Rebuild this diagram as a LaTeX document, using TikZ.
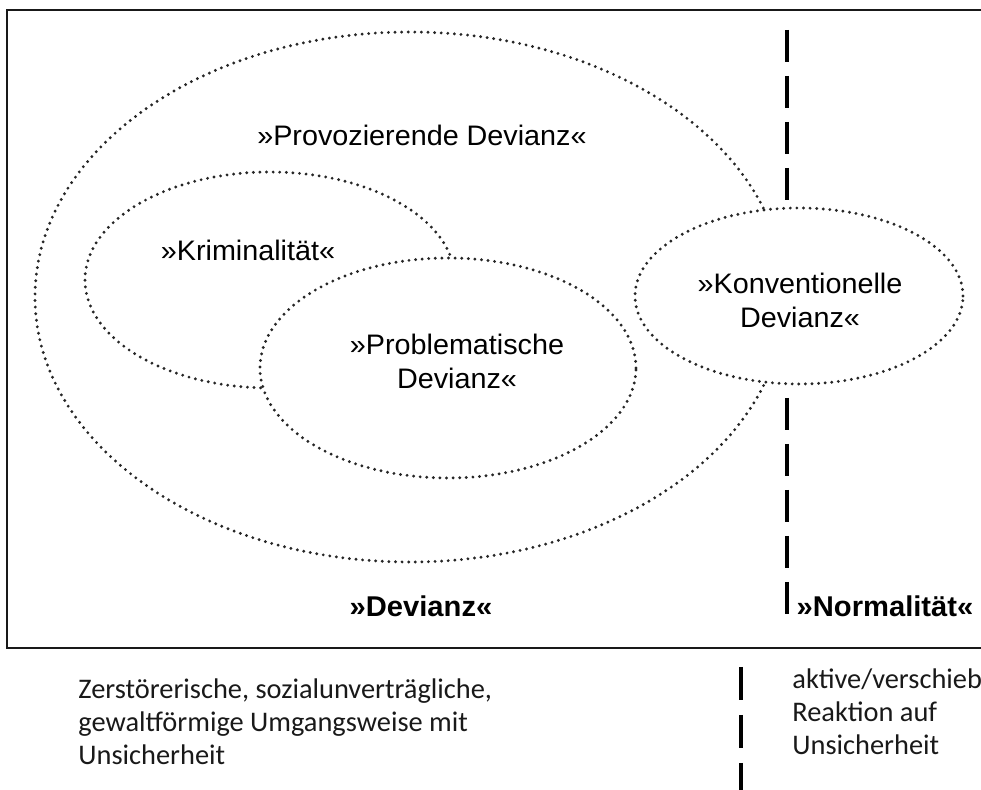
\documentclass[tikz,border=0pt]{standalone}
\usepackage{fontspec}
\setmainfont{Liberation Sans}
\newfontfamily\scanfont[FakeStretch=1.02]{Liberation Sans}
\newfontfamily\notefont{Carlito}
\usetikzlibrary{shapes.geometric,positioning}

\tikzset{
  scan/.style = {x=0.5pt, y=-0.5pt},
  zoneStyle/.style = {ellipse, draw=black!85, line width=1.6pt, line cap=round,
                      dash pattern=on 0pt off 3.3pt, inner sep=0pt},
  hiddenZone/.style = {zoneStyle, fill=white},
  zoneText/.style = {font=\scanfont\fontsize{14.1}{17}\selectfont, align=center, inner sep=0pt},
  sideText/.style = {font=\scanfont\bfseries\fontsize{14.3}{17}\selectfont, inner sep=0pt},
  noteText/.style = {font=\notefont\fontsize{14.2}{16.5}\selectfont, text=black!90, align=left, inner sep=0pt},
  borderLine/.style = {line width=1.2pt, black!90},
  dividerLine/.style = {line width=2pt, dash pattern=on 16pt off 7pt}
}

\begin{document}
\begin{tikzpicture}[scan]
  \useasboundingbox (0,0) rectangle (981,790);

  % frame, open to the right
  \coordinate (frameTR) at (1000,10);
  \coordinate (frameBR) at (1000,648);
  \draw [borderLine] (frameTR) -- (7,10) -- (7,648) -- (frameBR);

  % zones
  \node [zoneStyle, minimum width=375pt, minimum height=265pt] (provo) at (410,297) {};
  \node [hiddenZone, minimum width=185pt, minimum height=108pt] (krim) at (270,280) {};
  \node [hiddenZone, minimum width=188pt, minimum height=110pt] (probl) at (448,368) {};

  % border between deviance and normality
  \coordinate (normTop) at (787,30);
  \coordinate (normBot) at (787,618);
  \draw [dividerLine] (normTop) -- (normBot);

  \node [hiddenZone, minimum width=164pt, minimum height=88pt] (konv) at (799,296) {};

  % labels
  \node [zoneText] (provoText) at (422,135) {»Provozierende Devianz«};
  \node [zoneText] (krimText) at (248,250) {»Kriminalität«};
  \node [zoneText] (problText) at (457,361) {»Problematische\\Devianz«};
  \node [zoneText] (konvText) at (800,300) {»Konventionelle\\Devianz«};
  \node [sideText] (devText) at (421,606) {»Devianz«};
  \node [sideText] (normText) at (885,606) {»Normalität«};

  % notes below the frame
  \coordinate (lowTop) at (741,667);
  \coordinate (lowBot) at (741,800);
  \draw [dividerLine, dash pattern=on 16.5pt off 7.5pt] (lowTop) -- (lowBot);
  \node [noteText, anchor=west] (devNote) at (78,722)
    {Zerstörerische, sozialunverträgliche,\\gewaltförmige Umgangsweise mit\\Unsicherheit};
  \node [noteText, anchor=west] (normNote) at (792,712)
    {aktive/verschieb\\Reaktion auf\\Unsicherheit};
\end{tikzpicture}
\end{document}
